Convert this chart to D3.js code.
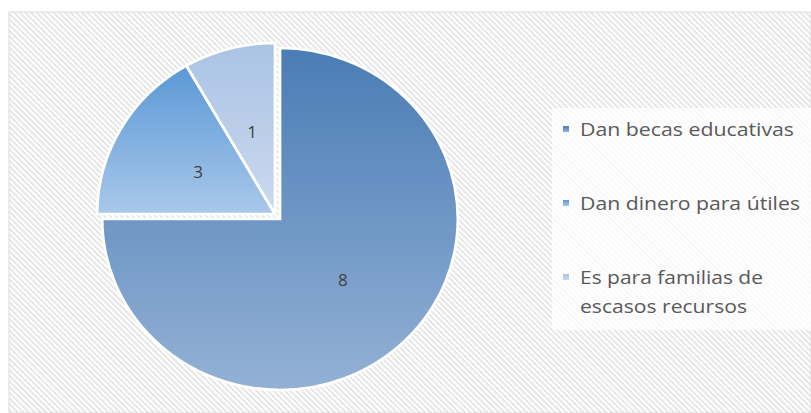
<!DOCTYPE html>
<html><head><meta charset="utf-8">
<script src="https://cdn.jsdelivr.net/npm/d3@7"></script>
<style>body{margin:0;background:#fff}svg{display:block}</style>
</head><body>
<svg id="c" width="811" height="413"></svg>
<script>
const categories = ["Dan becas educativas", "Dan dinero para útiles", "Es para familias de escasos recursos"];
// data labels printed on the slices
const counts = [8, 3, 1];
// slice shares as drawn in the picture (270°, 60°, 30°)
const sliceShares = [75, 16.7, 8.3];
const legendLines = [["Dan becas educativas"], ["Dan dinero para útiles"], ["Es para familias de", "escasos recursos"]];

const svg = d3.select("#c");
const defs = svg.append("defs");
const pat = defs.append("pattern").attr("id","stripes").attr("patternUnits","userSpaceOnUse")
  .attr("width",4).attr("height",4).attr("patternTransform","rotate(-45)");
pat.append("rect").attr("width",4).attr("height",4).attr("fill","#ffffff");
pat.append("rect").attr("width",2).attr("height",4).attr("fill","#e6e6e6");

const grads = [["#4a7cb5","#93b1d5"],["#5a98d6","#a9c8ea"],["#abc3e4","#cad9ef"]];
grads.forEach((g,i)=>{
  const lg = defs.append("linearGradient").attr("id","g"+i).attr("x1",0).attr("y1",0).attr("x2",0).attr("y2",1);
  lg.append("stop").attr("offset","0%").attr("stop-color",g[0]);
  lg.append("stop").attr("offset","100%").attr("stop-color",g[1]);
});

// chart area
svg.append("rect").attr("x",9).attr("y",12).attr("width",802).attr("height",401)
  .attr("fill","url(#stripes)").attr("stroke","#dcdcdc").attr("stroke-width",1);

const cx = 277, cy = 216, r = 171, sx = 1.04;
const data = categories.map((c,i)=>({cat:c, share:sliceShares[i], count:counts[i]}));
const pie = d3.pie().sort(null).value(d=>d.share)(data);
const arc = d3.arc().innerRadius(0).outerRadius(r);
const offsets = [[3,3],[-2,-2],[-2,-2]];

const g = svg.append("g");
g.selectAll("path").data(pie).join("path")
  .attr("transform",(d,i)=>`translate(${cx+offsets[i][0]},${cy+offsets[i][1]}) scale(${sx},1)`)
  .attr("d",arc)
  .attr("fill",(d,i)=>`url(#g${i})`)
  .attr("stroke","#ffffff").attr("stroke-width",2.6).attr("stroke-linejoin","miter");

// labels
const labelArc = d3.arc().innerRadius(r*0.5).outerRadius(r*0.5);
svg.selectAll("text.lbl").data(pie).join("text").attr("class","lbl")
  .each(function(d,i){
    const [x,y] = labelArc.centroid(d);
    d3.select(this).attr("x",cx + offsets[i][0] + x*sx).attr("y",cy + offsets[i][1] + y);
  })
  .attr("text-anchor","middle").attr("dominant-baseline","central")
  .attr("font-family","Open Sans, sans-serif").attr("font-size",17).attr("fill","#404040")
  .text(d=>d.data.count);

// legend
svg.append("rect").attr("x",552).attr("y",108).attr("width",259).attr("height",222)
  .attr("fill","#ffffff").attr("opacity",0.75);
const baselines = [[136],[210],[284,313]];
const widths = [[214],[220],[183,167]];
const lg = svg.append("g");
legendLines.forEach((lines,i)=>{
  lg.append("rect").attr("x",563).attr("y",baselines[i][0]-10).attr("width",6).attr("height",6)
    .attr("fill",`url(#g${i})`);
  lines.forEach((t,j)=>{
    lg.append("text").attr("x",580).attr("y",baselines[i][j])
      .attr("font-family","Open Sans, sans-serif").attr("font-size",18).attr("fill","#595959")
      .attr("textLength",widths[i][j]).attr("lengthAdjust","spacingAndGlyphs")
      .text(t);
  });
});
</script>
</body></html>
